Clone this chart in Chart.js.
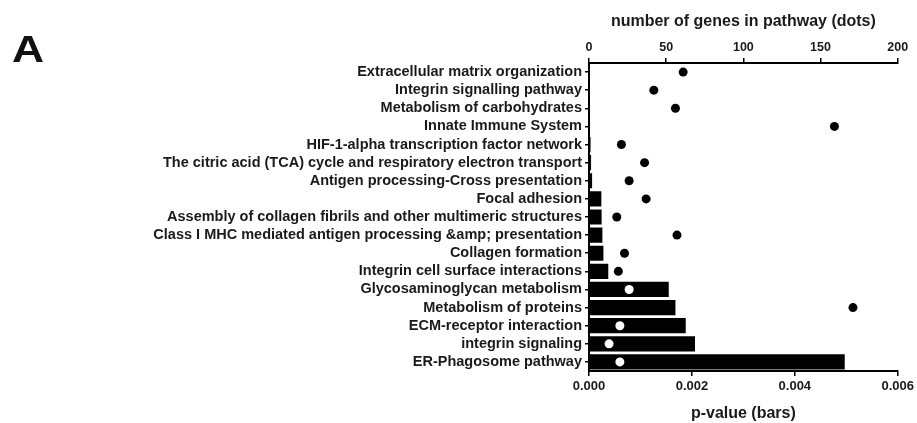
<!DOCTYPE html>
<html>
<head>
<meta charset="utf-8">
<script src="https://cdn.jsdelivr.net/npm/chart.js@4.4.1/dist/chart.umd.min.js"></script>
<style>
  body { margin: 0; background: #fff; }
  #wrap { position: relative; width: 917px; height: 423px; }
  #panel { position: absolute; left: 12px; top: 29px; font: bold 37px "Liberation Sans", Arial, sans-serif; color: #111;
    transform: scaleX(1.2); transform-origin: left top; }
</style>
</head>
<body>
<div id="wrap">
  <div id="panel">A</div>
  <canvas id="chart" width="917" height="423"></canvas>
</div>
<script>
// Pathway names, top to bottom
const pathways = [
  "Extracellular matrix organization",
  "Integrin signalling pathway",
  "Metabolism of carbohydrates",
  "Innate Immune System",
  "HIF-1-alpha transcription factor network",
  "The citric acid (TCA) cycle and respiratory electron transport",
  "Antigen processing-Cross presentation",
  "Focal adhesion",
  "Assembly of collagen fibrils and other multimeric structures",
  "Class I MHC mediated antigen processing &amp; presentation",
  "Collagen formation",
  "Integrin cell surface interactions",
  "Glycosaminoglycan metabolism",
  "Metabolism of proteins",
  "ECM-receptor interaction",
  "integrin signaling",
  "ER-Phagosome pathway"
];

// p-values (bars, bottom axis)
const pValues = [0.00001, 0.00001, 0.00002, 0.00002, 0.00003, 0.00004, 0.00006,
  0.00024, 0.000245, 0.00026, 0.00028, 0.000375,
  0.00155, 0.00168, 0.00188, 0.00206, 0.00497];

// number of genes in pathway (dots, top axis)
const geneCounts = [61, 42, 56, 159, 21, 36, 26, 37, 18, 57, 23, 19, 26, 171, 20, 13, 20];

const pMax = 0.006;
const genesMax = 200;

// dots sitting on top of a bar are drawn white
const dotColors = geneCounts.map((g, i) => (g / genesMax < pValues[i] / pMax) ? "#fff" : "#000");

const fontFamily = '"Liberation Sans", Arial, sans-serif';
const ink = "#1a1a1a";

new Chart(document.getElementById("chart"), {
  type: "bar",
  data: {
    labels: pathways,
    datasets: [
      {
        type: "line",
        label: "genes",
        data: geneCounts,
        xAxisID: "xTop",
        yAxisID: "y",
        indexAxis: "y",
        showLine: false,
        pointRadius: 4.5,
        pointBackgroundColor: dotColors,
        pointBorderWidth: 0,
        order: 0
      },
      {
        label: "p-value",
        data: pValues,
        xAxisID: "x",
        yAxisID: "y",
        backgroundColor: "#000",
        barPercentage: 0.84,
        categoryPercentage: 1,
        order: 1
      }
    ]
  },
  options: {
    indexAxis: "y",
    responsive: false,
    animation: false,
    layout: { padding: { left: 0, right: 19, top: 0, bottom: 0 } },
    plugins: { legend: { display: false }, tooltip: { enabled: false } },
    scales: {
      x: {
        position: "bottom",
        min: 0, max: pMax,
        afterFit: s => { s.height = 52; },
        ticks: {
          stepSize: 0.002,
          color: ink,
          padding: 3,
          font: { family: fontFamily, size: 13, weight: "bold" },
          callback: v => v.toFixed(3)
        },
        grid: { drawOnChartArea: false, tickLength: 5, tickColor: "#000", lineWidth: 1.5 },
        border: { color: "#000", width: 2 },
        title: { display: true, text: "p-value (bars)", color: ink, padding: { top: 10, bottom: 0 },
          font: { family: fontFamily, size: 16, weight: "bold" } }
      },
      xTop: {
        position: "top",
        min: 0, max: genesMax,
        afterFit: s => { s.height = 63; },
        ticks: {
          stepSize: 50,
          color: ink,
          padding: 3,
          font: { family: fontFamily, size: 12.5, weight: "bold" }
        },
        grid: { drawOnChartArea: false, tickLength: 5, tickColor: "#000", lineWidth: 1.5 },
        border: { color: "#000", width: 2 },
        title: { display: true, text: "number of genes in pathway (dots)", color: ink, padding: { top: 12, bottom: 0 },
          font: { family: fontFamily, size: 16, weight: "bold" } }
      },
      y: {
        afterFit: s => { s.width = 589; },
        ticks: {
          color: ink,
          padding: 3,
          autoSkip: false,
          font: { family: fontFamily, size: 14.5, weight: "bold" }
        },
        grid: { drawOnChartArea: false, offset: false, tickLength: 4, tickColor: "#000", lineWidth: 1.5 },
        border: { color: "#000", width: 2 }
      }
    }
  }
});
</script>
</body>
</html>
